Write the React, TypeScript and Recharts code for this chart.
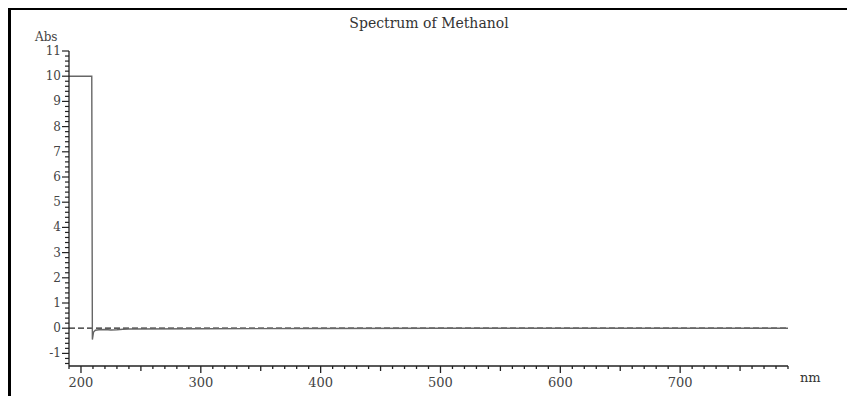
import { LineChart, Line, XAxis, YAxis, ReferenceLine } from 'recharts'

// wavelength (nm) and absorbance
const wavelength = [190, 208, 209, 209.5, 210.5, 212, 215, 220, 225, 230, 235, 240, 300, 400, 500, 600, 700, 790];
const absorbance = [10, 10, 10, -0.45, -0.15, -0.08, -0.06, -0.05, -0.07, -0.06, -0.04, -0.03, -0.02, -0.01, 0, 0, 0, 0];

const xLabels = [200, 300, 400, 500, 600, 700];
const yLabels = [-1, 0, 1, 2, 3, 4, 5, 6, 7, 8, 9, 10, 11];

const data = wavelength.map((w, i) => ({ nm: w, abs: absorbance[i] }));

// minor ticks every 10 nm / 0.2 Abs
const xTicks: number[] = [];
for (let v = 190; v <= 790; v += 10) xTicks.push(v);
const yTicks: number[] = [];
for (let i = -7; i <= 55; i++) yTicks.push(Math.round(i * 2) / 10);

const font = '"DejaVu Serif", "Liberation Serif", serif';

const XTick = (props: any) => {
    const { x, y, payload } = props;
    const v = payload.value;
    const major = xLabels.includes(v);
    const len = major ? 7 : v % 50 === 0 ? 5 : 3;
    return (
        <g>
            <line x1={x} x2={x} y1={y} y2={y + len} stroke="#222" strokeWidth={1.3} />
            {major && (
                <text x={x} y={y + 21} textAnchor="middle" fontSize={13} fontFamily={font} fill="#444">
                    {v}
                </text>
            )}
        </g>
    );
};

const YTick = (props: any) => {
    const { x, y, payload } = props;
    const v = payload.value;
    const major = yLabels.some(l => Math.abs(l - v) < 1e-6);
    const len = major ? 7 : 4;
    return (
        <g>
            <line x1={x} x2={x - len} y1={y} y2={y} stroke="#222" strokeWidth={1.2} />
            {major && (
                <text x={x - 8} y={y + 4} textAnchor="end" fontSize={12} fontFamily={font} fill="#444">
                    {Math.round(v)}
                </text>
            )}
        </g>
    );
};

function App() {
    return (
        <div
            style={{
                position: 'relative',
                width: 844,
                height: 386,
                marginTop: -1,
                borderTop: '3px solid #000',
                borderLeft: '3px solid #000',
                background: '#fff',
            }}
        >
            <div style={{ position: 'absolute', left: 0, width: 836, top: 5, textAlign: 'center', fontFamily: font, fontSize: 14, color: '#333' }}>
                Spectrum of Methanol
            </div>
            <div style={{ position: 'absolute', left: 24, top: 20, fontFamily: font, fontSize: 12, color: '#444' }}>
                Abs
            </div>
            <div style={{ position: 'absolute', left: 789, top: 360, fontFamily: font, fontSize: 13, color: '#333' }}>
                nm
            </div>
            <LineChart width={844} height={386} data={data} margin={{ top: 41, right: 67, left: 0, bottom: 0 }}>
                <XAxis
                    dataKey="nm"
                    type="number"
                    domain={[190, 790]}
                    ticks={xTicks}
                    interval={0}
                    tick={<XTick />}
                    tickLine={false}
                    tickSize={0}
                    tickMargin={0}
                    height={30}
                    stroke="#222"
                    strokeWidth={1.3}
                    allowDataOverflow
                />
                <YAxis
                    type="number"
                    domain={[-1.5, 11]}
                    ticks={yTicks}
                    interval={0}
                    tick={<YTick />}
                    tickLine={false}
                    tickSize={0}
                    tickMargin={0}
                    width={58}
                    stroke="#222"
                    strokeWidth={1.3}
                    allowDataOverflow
                />
                <ReferenceLine y={0} stroke="#222" strokeDasharray="6 3" strokeWidth={1.2} />
                <Line
                    type="linear"
                    dataKey="abs"
                    stroke="#666"
                    strokeWidth={1.4}
                    dot={false}
                    isAnimationActive={false}
                />
            </LineChart>
        </div>
    )
}

export default App
